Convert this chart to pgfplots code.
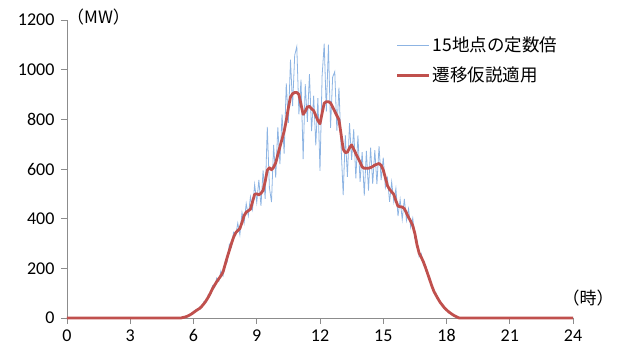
\documentclass[border=0pt]{standalone}
\usepackage{pgfplots}
\pgfplotsset{compat=1.18}
\usepackage{fontspec}
\setmainfont{Carlito}
\newfontfamily\jp{Noto Sans CJK JP}
\definecolor{axisgray}{RGB}{140,140,140}
\definecolor{lblue}{RGB}{141,180,227}
\definecolor{xred}{RGB}{192,80,77}
\begin{document}
\begin{tikzpicture}
\path[use as bounding box] (-67pt,-33pt) rectangle (552pt,318pt);
\begin{axis}[
  width=506pt, height=298pt, scale only axis,
  xmin=0, xmax=24, ymin=0, ymax=1200,
  xtick={0,3,...,24}, ytick={0,200,...,1200},
  axis lines=left,
  axis line style={draw=axisgray, line width=0.8pt, -},
  tick style={draw=axisgray, line width=0.8pt},
  tick align=outside, major tick length=6pt,
  scaled y ticks=false,
  /pgf/number format/1000 sep={},
  /pgf/number format/assume math mode=true,
  ticklabel style={font=\fontsize{18}{20}\selectfont, text=black},
  yticklabel style={xshift=-3pt},
  xticklabel style={yshift=-2pt},
  clip=false,
  legend style={at={(0.65,0.951)}, anchor=north west, draw=none, fill=none,
    font=\jp\fontsize{17.5}{20}\selectfont, inner sep=0pt, row sep=10pt,
    cells={anchor=west}},
  legend image code/.code={\draw[#1] (0pt,0pt) -- (32pt,0pt);},
]
\addplot[lblue, line width=0.8pt] coordinates {
(0,0)(5.5,2)(5.6,6)(5.7,5)(5.8,14)(5.9,13)(6.0,26)(6.1,33)(6.2,30)(6.3,45)(6.4,43)
(6.5,66)(6.6,64)(6.7,94)(6.8,92)(6.9,130)(7.0,122)(7.1,161)(7.2,148)(7.3,190)(7.4,170)
(7.5,225)(7.6,225)(7.7,297)(7.8,285)(7.9,345)(8.0,333)(8.1,382)(8.2,335)(8.3,425)(8.4,382)
(8.5,461)(8.6,412)(8.7,488)(8.8,438)(8.9,538)(9.0,465)(9.1,556)(9.2,452)(9.3,594)(9.4,480)
(9.5,770)(9.6,525)(9.7,467)(9.8,697)(9.9,565)(10.0,768)(10.1,620)(10.2,820)(10.3,662)(10.4,945)
(10.5,786)(10.6,1040)(10.7,853)(10.8,1058)(10.9,1093)(11.0,820)(11.1,960)(11.2,640)(11.3,942)(11.4,790)
(11.5,982)(11.6,753)(11.7,895)(11.8,695)(11.9,885)(12.0,592)(12.1,975)(12.2,1105)(12.3,831)(12.4,1101)
(12.5,766)(12.6,970)(12.7,992)(12.8,755)(12.9,928)(13.0,690)(13.1,495)(13.2,736)(13.3,568)(13.4,785)
(13.5,637)(13.6,760)(13.7,562)(13.8,735)(13.9,548)(14.0,668)(14.1,493)(14.2,673)(14.3,513)(14.4,686)
(14.5,540)(14.6,676)(14.7,539)(14.8,692)(14.9,555)(15.0,646)(15.1,525)(15.2,563)(15.3,468)(15.4,548)
(15.5,468)(15.6,522)(15.7,410)(15.8,478)(15.9,397)(16.0,480)(16.1,393)(16.2,440)(16.3,365)(16.4,402)
(16.5,320)(16.6,315)(16.7,247)(16.8,260)(16.9,217)(17.0,216)(17.1,170)(17.2,163)(17.3,124)(17.4,113)
(17.5,88)(17.6,81)(17.7,60)(17.8,55)(17.9,39)(18.0,35)(18.1,23)(18.2,20)(18.3,12)(18.4,9)
(18.5,4)(18.6,0)(24,0)
};
\addlegendentry{15地点の定数倍}
\addplot[xred, line width=2.8pt, line join=round] coordinates {
(0,0)(5.4,0)(5.5,2)(5.6,4)(5.7,7)(5.8,11)(5.9,16)(6.0,22)(6.1,28)(6.2,34)(6.3,39)(6.4,48)
(6.5,58)(6.6,70)(6.7,84)(6.8,100)(6.9,118)(7.0,132)(7.1,146)(7.2,158)(7.3,170)(7.4,185)
(7.5,215)(7.6,245)(7.7,272)(7.8,300)(7.9,325)(8.0,343)(8.1,352)(8.2,360)(8.3,385)(8.4,412)
(8.5,426)(8.6,432)(8.7,438)(8.8,468)(8.9,498)(9.0,500)(9.1,496)(9.2,502)(9.3,514)(9.4,550)
(9.5,595)(9.6,605)(9.7,597)(9.8,607)(9.9,625)(10.0,658)(10.1,690)(10.2,720)(10.3,752)(10.4,795)
(10.5,846)(10.6,890)(10.7,903)(10.8,908)(10.9,908)(11.0,900)(11.1,860)(11.2,820)(11.3,832)(11.4,850)
(11.5,852)(11.6,843)(11.7,835)(11.8,815)(11.9,795)(12.0,782)(12.1,825)(12.2,865)(12.3,871)(12.4,871)
(12.5,866)(12.6,850)(12.7,832)(12.8,815)(12.9,798)(13.0,740)(13.1,680)(13.2,666)(13.3,668)(13.4,685)
(13.5,697)(13.6,680)(13.7,662)(13.8,645)(13.9,628)(14.0,608)(14.1,603)(14.2,603)(14.3,603)(14.4,606)
(14.5,610)(14.6,616)(14.7,619)(14.8,622)(14.9,615)(15.0,596)(15.1,565)(15.2,533)(15.3,518)(15.4,508)
(15.5,498)(15.6,472)(15.7,450)(15.8,448)(15.9,447)(16.0,440)(16.1,423)(16.2,405)(16.3,390)(16.4,372)
(16.5,340)(16.6,295)(16.7,262)(16.8,245)(16.9,227)(17.0,204)(17.1,180)(17.2,155)(17.3,130)(17.4,108)
(17.5,92)(17.6,77)(17.7,63)(17.8,52)(17.9,41)(18.0,33)(18.1,25)(18.2,19)(18.3,13)(18.4,8)
(18.5,4)(18.6,0)(24,0)
};
\addlegendentry{遷移仮説適用}
\node[anchor=west, font=\jp\fontsize{17}{19}\selectfont, inner sep=0pt] at (rel axis cs:0,1) [yshift=3pt] {（MW）};
\node[font=\jp\fontsize{17}{19}\selectfont, inner sep=0pt] at (rel axis cs:1,0) [xshift=15pt, yshift=20pt] {（時）};
\end{axis}
\end{tikzpicture}
\end{document}
